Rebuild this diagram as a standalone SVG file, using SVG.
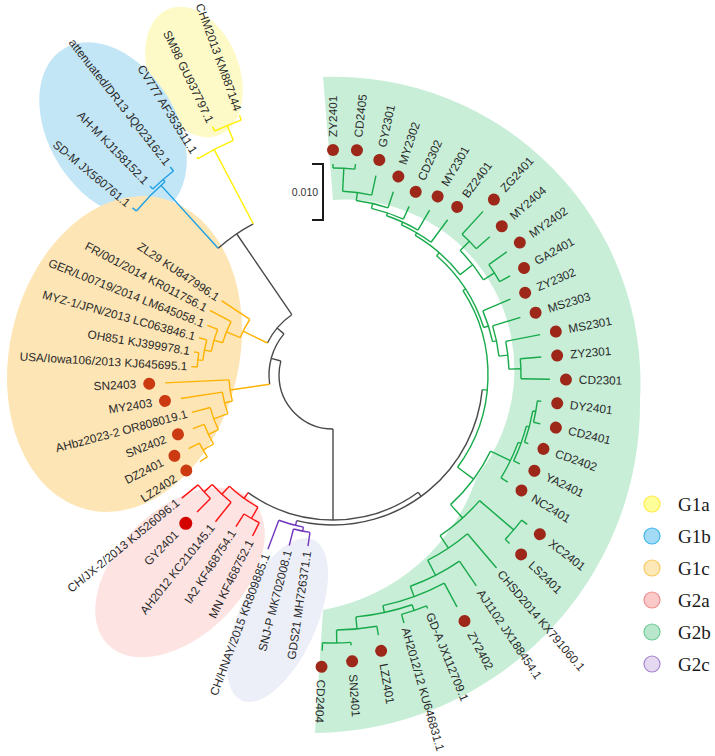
<svg xmlns="http://www.w3.org/2000/svg" width="715" height="756" viewBox="0 0 715 756">
<style>
.t{font-family:"Liberation Sans",Arial,sans-serif;font-size:11.8px;fill:#2a2a2a;dominant-baseline:central}
.f{text-anchor:end}
.ln line,.ln circle{fill:none;stroke-width:1.4}
.k{stroke:#4a4a4a}
.y{stroke:#fff000}
.b{stroke:#1c9fe4}
.o{stroke:#ffb200}
.r{stroke:#ff1111}
.p{stroke:#7236bd}
.g{stroke:#17aa4a}
.dg{fill:#9d2819}
.do{fill:#cc3a12}
.dr{fill:#d30000}
.lg{font-family:"Liberation Serif","Times New Roman",serif;font-size:19px;fill:#1a1a1a}
</style>
<rect width="715" height="756" fill="#ffffff"/>
<g id="clade-backgrounds">
<ellipse id="bg-G1a" cx="194" cy="72" rx="68" ry="45" transform="rotate(68 194 72)" fill="#fdfac8"/>
<ellipse id="bg-G1b" cx="113" cy="130" rx="95" ry="64" transform="rotate(58.5 113 130)" fill="#c3e6f6"/>
<ellipse id="bg-G1c" cx="124.5" cy="354" rx="114.6" ry="160" transform="rotate(13.4 124.5 354)" fill="#fde5b5"/>
<ellipse id="bg-G2a" cx="180" cy="572.5" rx="102" ry="63" transform="rotate(-45 180 572.5)" fill="#fde3e2"/>
<ellipse id="bg-G2c" cx="277.5" cy="620" rx="88" ry="39" transform="rotate(-66 277.5 620)" fill="#eceef8"/>
<path id="bg-G2b" d="M323,77 A306,306 0 0 1 640,400 A329,329 0 0 1 315,733 L323,610 A199,199 0 0 0 477,476 A170,170 0 0 0 333,200 Z" fill="#c8eed8"/>
</g>
<g id="scale-bar">
<path d="M312,164 H323 V220 H312" fill="none" stroke="#1a1a1a" stroke-width="2"/>
<text x="305" y="192" text-anchor="middle" dominant-baseline="central" font-family="Liberation Sans, Arial, sans-serif" font-size="10.5" fill="#333">0.010</text>
</g>
<g transform="translate(333,375)">
<g id="connectors" class="ln">
<g class="k">
<circle r="54" pathLength="360" stroke-dasharray="105 360" transform="rotate(90)"/>
<circle r="64" pathLength="360" stroke-dasharray="48.3 360" transform="rotate(171.7)"/>
<circle r="73" pathLength="360" stroke-dasharray="29.7 360" transform="rotate(206)"/>
<circle r="171" pathLength="360" stroke-dasharray="14.4 360" transform="rotate(227.8)"/>
<circle r="145" pathLength="360" stroke-dasharray="71.8 360" transform="rotate(54)"/>
<circle r="150" pathLength="360" stroke-dasharray="98.4 360" transform="rotate(5.6)"/>
<line x1="54" x2="64" transform="rotate(195)"/>
<line x1="54" x2="145" transform="rotate(90)"/>
<line x1="64" x2="73" transform="rotate(220)"/>
<line x1="73" x2="171" transform="rotate(235.7)"/>
<line x1="145" x2="150" transform="rotate(54)"/>
</g>
<g class="o">
<line x1="64" x2="104" transform="rotate(171.7)"/>
<line x1="73" x2="100" transform="rotate(206)"/>
<circle r="104" pathLength="360" stroke-dasharray="11.8 360" transform="rotate(165.5)"/>
<circle r="112" pathLength="360" stroke-dasharray="11.425 360" transform="rotate(159.8)"/>
<circle r="127" pathLength="360" stroke-dasharray="10.65 360" transform="rotate(154.5)"/>
<circle r="138" pathLength="360" stroke-dasharray="9.075 360" transform="rotate(150)"/>
<circle r="150" pathLength="360" stroke-dasharray="6.075 360" transform="rotate(146.925)"/>
<circle r="100" pathLength="360" stroke-dasharray="11.75 360" transform="rotate(202)"/>
<circle r="115" pathLength="360" stroke-dasharray="11.375 360" transform="rotate(196.3)"/>
<circle r="124" pathLength="360" stroke-dasharray="10.6 360" transform="rotate(191)"/>
<circle r="131" pathLength="360" stroke-dasharray="9.125 360" transform="rotate(186.4)"/>
<circle r="136" pathLength="360" stroke-dasharray="6.075 360" transform="rotate(183.375)"/>
<line x1="104" x2="168" transform="rotate(177.3)"/>
<line x1="104" x2="112" transform="rotate(165.5)"/>
<line x1="112" x2="154" transform="rotate(171.225)"/>
<line x1="112" x2="127" transform="rotate(159.8)"/>
<line x1="127" x2="146" transform="rotate(165.15)"/>
<line x1="127" x2="138" transform="rotate(154.5)"/>
<line x1="138" x2="150" transform="rotate(159.075)"/>
<line x1="138" x2="150" transform="rotate(150)"/>
<line x1="150" x2="162" transform="rotate(153)"/>
<line x1="150" x2="159" transform="rotate(146.925)"/>
<line x1="100" x2="134" transform="rotate(213.75)"/>
<line x1="100" x2="115" transform="rotate(202)"/>
<line x1="115" x2="139" transform="rotate(207.675)"/>
<line x1="115" x2="124" transform="rotate(196.3)"/>
<line x1="124" x2="135" transform="rotate(201.6)"/>
<line x1="124" x2="131" transform="rotate(191)"/>
<line x1="131" x2="139" transform="rotate(195.525)"/>
<line x1="131" x2="136" transform="rotate(186.4)"/>
<line x1="136" x2="142" transform="rotate(183.375)"/>
<line x1="136" x2="141" transform="rotate(189.45)"/>
</g>
<g class="b">
<line x1="171" x2="256" transform="rotate(227.8)"/>
<circle r="256" pathLength="360" stroke-dasharray="9.175 360" transform="rotate(219.825)"/>
<line x1="256" x2="261" transform="rotate(219.825)"/>
<line x1="256" x2="259" transform="rotate(229)"/>
<circle r="259" pathLength="360" stroke-dasharray="6.075 360" transform="rotate(225.9)"/>
<line x1="259" x2="263" transform="rotate(225.9)"/>
<line x1="259" x2="264" transform="rotate(231.975)"/>
</g>
<g class="y">
<line x1="171" x2="255" transform="rotate(242.2)"/>
<circle r="255" pathLength="360" stroke-dasharray="8.95 360" transform="rotate(238.05)"/>
<line x1="255" x2="257" transform="rotate(238.05)"/>
<line x1="255" x2="271" transform="rotate(247)"/>
<circle r="271" pathLength="360" stroke-dasharray="6.075 360" transform="rotate(244.125)"/>
<line x1="271" x2="276" transform="rotate(244.125)"/>
<line x1="271" x2="276" transform="rotate(250.2)"/>
</g>
<g class="r">
<line x1="145" x2="152" transform="rotate(125.8)"/>
<circle r="152" pathLength="360" stroke-dasharray="13.4 360" transform="rotate(119.6)"/>
<line x1="152" x2="165" transform="rotate(119.6)"/>
<circle r="165" pathLength="360" stroke-dasharray="6.075 360" transform="rotate(116.55)"/>
<line x1="165" x2="180" transform="rotate(116.55)"/>
<line x1="165" x2="180" transform="rotate(122.625)"/>
<line x1="152" x2="163" transform="rotate(133)"/>
<circle r="163" pathLength="360" stroke-dasharray="9.1 360" transform="rotate(128.7)"/>
<line x1="163" x2="188" transform="rotate(128.7)"/>
<line x1="163" x2="174" transform="rotate(137.8)"/>
<circle r="174" pathLength="360" stroke-dasharray="6.075 360" transform="rotate(134.775)"/>
<line x1="174" x2="193" transform="rotate(134.775)"/>
<line x1="174" x2="195" transform="rotate(140.85)"/>
</g>
<g class="p">
<line x1="150" x2="155" transform="rotate(104)"/>
<circle r="155" pathLength="360" stroke-dasharray="9.475 360" transform="rotate(101)"/>
<line x1="155" x2="186" transform="rotate(110.475)"/>
<line x1="155" x2="159" transform="rotate(101)"/>
<circle r="159" pathLength="360" stroke-dasharray="6.075 360" transform="rotate(98.325)"/>
<line x1="159" x2="173" transform="rotate(98.325)"/>
<line x1="159" x2="176" transform="rotate(104.4)"/>
</g>
<g class="g">
<circle r="207" pathLength="360" stroke-dasharray="6.075 360" transform="rotate(-90)"/>
<circle r="184" pathLength="360" stroke-dasharray="9.15 360" transform="rotate(-87)"/>
<circle r="176" pathLength="360" stroke-dasharray="10.625 360" transform="rotate(-82.4)"/>
<circle r="171" pathLength="360" stroke-dasharray="11.3 360" transform="rotate(-77)"/>
<circle r="168" pathLength="360" stroke-dasharray="11.775 360" transform="rotate(-71.4)"/>
<circle r="165" pathLength="360" stroke-dasharray="11.95 360" transform="rotate(-65.5)"/>
<circle r="162" pathLength="360" stroke-dasharray="21.2 360" transform="rotate(-59.5)"/>
<circle r="178" pathLength="360" stroke-dasharray="12.1 360" transform="rotate(-44.4)"/>
<circle r="191" pathLength="360" stroke-dasharray="6.075 360" transform="rotate(-47.475)"/>
<circle r="191" pathLength="360" stroke-dasharray="6.075 360" transform="rotate(-35.325)"/>
<circle r="158" pathLength="360" stroke-dasharray="31.5 360" transform="rotate(-49)"/>
<circle r="163" pathLength="360" stroke-dasharray="11.375 360" transform="rotate(-23.175)"/>
<circle r="167" pathLength="360" stroke-dasharray="10.6 360" transform="rotate(-17.1)"/>
<circle r="176" pathLength="360" stroke-dasharray="9.125 360" transform="rotate(-11.025)"/>
<circle r="188" pathLength="360" stroke-dasharray="6.075 360" transform="rotate(-4.95)"/>
<circle r="155" pathLength="360" stroke-dasharray="69.5 360" transform="rotate(-33)"/>
<circle r="175" pathLength="360" stroke-dasharray="22 360" transform="rotate(25.8)"/>
<circle r="197" pathLength="360" stroke-dasharray="11.5 360" transform="rotate(20)"/>
<circle r="200" pathLength="360" stroke-dasharray="10.625 360" transform="rotate(14.8)"/>
<circle r="203" pathLength="360" stroke-dasharray="9.15 360" transform="rotate(10.2)"/>
<circle r="206" pathLength="360" stroke-dasharray="6.075 360" transform="rotate(7.2)"/>
<circle r="193" pathLength="360" stroke-dasharray="15.7 360" transform="rotate(40.6)"/>
<circle r="238" pathLength="360" stroke-dasharray="6.075 360" transform="rotate(37.575)"/>
<circle r="208" pathLength="360" stroke-dasharray="13.175 360" transform="rotate(49.725)"/>
<circle r="225" pathLength="360" stroke-dasharray="14.1 360" transform="rotate(55.8)"/>
<circle r="236" pathLength="360" stroke-dasharray="15.925 360" transform="rotate(61.875)"/>
<circle r="243" pathLength="360" stroke-dasharray="13.6 360" transform="rotate(71)"/>
<circle r="249" pathLength="360" stroke-dasharray="6.075 360" transform="rotate(67.95)"/>
<circle r="255" pathLength="360" stroke-dasharray="9.1 360" transform="rotate(80.1)"/>
<circle r="268" pathLength="360" stroke-dasharray="6.075 360" transform="rotate(86.175)"/>
<line x1="207" x2="211" transform="rotate(-90)"/>
<line x1="207" x2="212" transform="rotate(-83.925)"/>
<line x1="184" x2="204" transform="rotate(-77.85)"/>
<line x1="176" x2="193" transform="rotate(-71.775)"/>
<line x1="171" x2="185" transform="rotate(-65.7)"/>
<line x1="168" x2="191" transform="rotate(-59.625)"/>
<line x1="165" x2="193" transform="rotate(-53.55)"/>
<line x1="191" x2="222" transform="rotate(-47.475)"/>
<line x1="191" x2="209" transform="rotate(-41.4)"/>
<line x1="191" x2="213" transform="rotate(-35.325)"/>
<line x1="191" x2="203" transform="rotate(-29.25)"/>
<line x1="163" x2="193" transform="rotate(-23.175)"/>
<line x1="167" x2="196" transform="rotate(-17.1)"/>
<line x1="176" x2="211" transform="rotate(-11.025)"/>
<line x1="188" x2="209" transform="rotate(-4.95)"/>
<line x1="188" x2="217" transform="rotate(1.125)"/>
<line x1="206" x2="210" transform="rotate(7.2)"/>
<line x1="206" x2="213" transform="rotate(13.275)"/>
<line x1="203" x2="207" transform="rotate(19.35)"/>
<line x1="200" x2="207" transform="rotate(25.425)"/>
<line x1="197" x2="205" transform="rotate(31.5)"/>
<line x1="238" x2="245" transform="rotate(37.575)"/>
<line x1="238" x2="244" transform="rotate(43.65)"/>
<line x1="208" x2="253" transform="rotate(49.725)"/>
<line x1="225" x2="255" transform="rotate(55.8)"/>
<line x1="236" x2="263" transform="rotate(61.875)"/>
<line x1="249" x2="252" transform="rotate(67.95)"/>
<line x1="249" x2="258" transform="rotate(74.025)"/>
<line x1="255" x2="264" transform="rotate(80.1)"/>
<line x1="268" x2="271" transform="rotate(86.175)"/>
<line x1="268" x2="276" transform="rotate(92.25)"/>
<line x1="184" x2="207" transform="rotate(-87)"/>
<line x1="176" x2="184" transform="rotate(-82.4)"/>
<line x1="171" x2="176" transform="rotate(-77)"/>
<line x1="168" x2="171" transform="rotate(-71.4)"/>
<line x1="165" x2="168" transform="rotate(-65.5)"/>
<line x1="162" x2="165" transform="rotate(-59.5)"/>
<line x1="178" x2="191" transform="rotate(-44.4)"/>
<line x1="178" x2="191" transform="rotate(-32.3)"/>
<line x1="162" x2="178" transform="rotate(-38.3)"/>
<line x1="158" x2="162" transform="rotate(-49)"/>
<line x1="158" x2="163" transform="rotate(-17.5)"/>
<line x1="163" x2="167" transform="rotate(-11.8)"/>
<line x1="167" x2="176" transform="rotate(-6.5)"/>
<line x1="176" x2="188" transform="rotate(-1.9)"/>
<line x1="155" x2="158" transform="rotate(-33)"/>
<line x1="155" x2="175" transform="rotate(36.5)"/>
<line x1="150" x2="155" transform="rotate(5.6)"/>
<line x1="175" x2="197" transform="rotate(25.8)"/>
<line x1="175" x2="193" transform="rotate(47.8)"/>
<line x1="197" x2="200" transform="rotate(20)"/>
<line x1="200" x2="203" transform="rotate(14.8)"/>
<line x1="203" x2="206" transform="rotate(10.2)"/>
<line x1="193" x2="238" transform="rotate(40.6)"/>
<line x1="193" x2="208" transform="rotate(56.3)"/>
<line x1="208" x2="225" transform="rotate(62.9)"/>
<line x1="225" x2="236" transform="rotate(69.9)"/>
<line x1="236" x2="243" transform="rotate(77.8)"/>
<line x1="243" x2="249" transform="rotate(71)"/>
<line x1="243" x2="255" transform="rotate(84.6)"/>
<line x1="255" x2="268" transform="rotate(89.2)"/>
</g>
</g>
<g id="leaves">
<g id="n-ZY2401"><circle class="dg" cx="225" r="6" transform="rotate(-90)"/><text class="t" transform="rotate(-90) translate(238,0)">ZY2401</text></g>
<g id="n-CD2405"><circle class="dg" cx="226" r="6" transform="rotate(-83.925)"/><text class="t" transform="rotate(-83.925) translate(239,0)">CD2405</text></g>
<g id="n-GY2301"><circle class="dg" cx="220" r="6" transform="rotate(-77.85)"/><text class="t" transform="rotate(-77.85) translate(233,0)">GY2301</text></g>
<g id="n-MY2302"><circle class="dg" cx="209" r="6" transform="rotate(-71.775)"/><text class="t" transform="rotate(-71.775) translate(222,0)">MY2302</text></g>
<g id="n-CD2302"><circle class="dg" cx="201" r="6" transform="rotate(-65.7)"/><text class="t" transform="rotate(-65.7) translate(214,0)">CD2302</text></g>
<g id="n-MY2301"><circle class="dg" cx="207" r="6" transform="rotate(-59.625)"/><text class="t" transform="rotate(-59.625) translate(220,0)">MY2301</text></g>
<g id="n-BZ2401"><circle class="dg" cx="209" r="6" transform="rotate(-53.55)"/><text class="t" transform="rotate(-53.55) translate(222,0)">BZ2401</text></g>
<g id="n-ZG2401"><circle class="dg" cx="238" r="6" transform="rotate(-47.475)"/><text class="t" transform="rotate(-47.475) translate(251,0)">ZG2401</text></g>
<g id="n-MY2404"><circle class="dg" cx="225" r="6" transform="rotate(-41.4)"/><text class="t" transform="rotate(-41.4) translate(238,0)">MY2404</text></g>
<g id="n-MY2402"><circle class="dg" cx="229" r="6" transform="rotate(-35.325)"/><text class="t" transform="rotate(-35.325) translate(242,0)">MY2402</text></g>
<g id="n-GA2401"><circle class="dg" cx="219" r="6" transform="rotate(-29.25)"/><text class="t" transform="rotate(-29.25) translate(232,0)">GA2401</text></g>
<g id="n-ZY2302"><circle class="dg" cx="209" r="6" transform="rotate(-23.175)"/><text class="t" transform="rotate(-23.175) translate(222,0)">ZY2302</text></g>
<g id="n-MS2303"><circle class="dg" cx="212" r="6" transform="rotate(-17.1)"/><text class="t" transform="rotate(-17.1) translate(225,0)">MS2303</text></g>
<g id="n-MS2301"><circle class="dg" cx="227" r="6" transform="rotate(-11.025)"/><text class="t" transform="rotate(-11.025) translate(240,0)">MS2301</text></g>
<g id="n-ZY2301"><circle class="dg" cx="225" r="6" transform="rotate(-4.95)"/><text class="t" transform="rotate(-4.95) translate(238,0)">ZY2301</text></g>
<g id="n-CD2301"><circle class="dg" cx="233" r="6" transform="rotate(1.125)"/><text class="t" transform="rotate(1.125) translate(246,0)">CD2301</text></g>
<g id="n-DY2401"><circle class="dg" cx="226" r="6" transform="rotate(7.2)"/><text class="t" transform="rotate(7.2) translate(239,0)">DY2401</text></g>
<g id="n-CD2401"><circle class="dg" cx="229" r="6" transform="rotate(13.275)"/><text class="t" transform="rotate(13.275) translate(242,0)">CD2401</text></g>
<g id="n-CD2402"><circle class="dg" cx="223" r="6" transform="rotate(19.35)"/><text class="t" transform="rotate(19.35) translate(236,0)">CD2402</text></g>
<g id="n-YA2401"><circle class="dg" cx="223" r="6" transform="rotate(25.425)"/><text class="t" transform="rotate(25.425) translate(236,0)">YA2401</text></g>
<g id="n-NC2401"><circle class="dg" cx="221" r="6" transform="rotate(31.5)"/><text class="t" transform="rotate(31.5) translate(234,0)">NC2401</text></g>
<g id="n-XC2401"><circle class="dg" cx="261" r="6" transform="rotate(37.575)"/><text class="t" transform="rotate(37.575) translate(274,0)">XC2401</text></g>
<g id="n-LS2401"><circle class="dg" cx="260" r="6" transform="rotate(43.65)"/><text class="t" transform="rotate(43.65) translate(273,0)">LS2401</text></g>
<g id="n-CHSD2014"><text class="t" transform="rotate(49.725) translate(258,0)">CHSD2014 KX791060.1</text></g>
<g id="n-AJ1102"><text class="t" transform="rotate(55.8) translate(261,0)">AJ1102 JX188454.1</text></g>
<g id="n-ZY2402"><circle class="dg" cx="279" r="6" transform="rotate(61.875)"/><text class="t" transform="rotate(61.875) translate(292,0)">ZY2402</text></g>
<g id="n-GD-A"><text class="t" transform="rotate(67.95) translate(257,0)">GD-A JX112709.1</text></g>
<g id="n-AH2012-12"><text class="t" transform="rotate(74.025) translate(263,0)">AH2012/12 KU646831.1</text></g>
<g id="n-LZZ401"><circle class="dg" cx="280" r="6" transform="rotate(80.1)"/><text class="t" transform="rotate(80.1) translate(293,0)">LZZ401</text></g>
<g id="n-SN2401"><circle class="dg" cx="287" r="6" transform="rotate(86.175)"/><text class="t" transform="rotate(86.175) translate(300,0)">SN2401</text></g>
<g id="n-CD2404"><circle class="dg" cx="292" r="6" transform="rotate(92.25)"/><text class="t" transform="rotate(92.25) translate(305,0)">CD2404</text></g>
<g id="n-GDS21"><text class="t f" transform="rotate(98.325) translate(178,0) rotate(180)">GDS21 MH726371.1</text></g>
<g id="n-SNJ-P"><text class="t f" transform="rotate(104.4) translate(181,0) rotate(180)">SNJ-P MK702008.1</text></g>
<g id="n-CH-HNAY"><text class="t f" transform="rotate(110.475) translate(191,0) rotate(180)">CH/HNAY/2015 KR809885.1</text></g>
<g id="n-MN"><text class="t f" transform="rotate(116.55) translate(185,0) rotate(180)">MN KF468752.1</text></g>
<g id="n-IA2"><text class="t f" transform="rotate(122.625) translate(185,0) rotate(180)">IA2 KF468754.1</text></g>
<g id="n-AH2012"><text class="t f" transform="rotate(128.7) translate(193,0) rotate(180)">AH2012 KC210145.1</text></g>
<g id="n-GY2401"><circle class="dr" cx="209" r="6.5" transform="rotate(134.775)"/><text class="t f" transform="rotate(134.775) translate(222,0) rotate(180)">GY2401</text></g>
<g id="n-CH-JX-2"><text class="t f" transform="rotate(140.85) translate(200,0) rotate(180)">CH/JX-2/2013 KJ526096.1</text></g>
<g id="n-LZ2402"><circle class="do" cx="175" r="6" transform="rotate(146.925)"/><text class="t f" transform="rotate(146.925) translate(188,0) rotate(180)">LZ2402</text></g>
<g id="n-DZ2401"><circle class="do" cx="178" r="6" transform="rotate(153)"/><text class="t f" transform="rotate(153) translate(191,0) rotate(180)">DZ2401</text></g>
<g id="n-SN2402"><circle class="do" cx="166" r="6" transform="rotate(159.075)"/><text class="t f" transform="rotate(159.075) translate(179,0) rotate(180)">SN2402</text></g>
<g id="n-AHbz2023-2"><text class="t f" transform="rotate(165.15) translate(151,0) rotate(180)">AHbz2023-2 OR808019.1</text></g>
<g id="n-MY2403"><circle class="do" cx="170" r="6" transform="rotate(171.225)"/><text class="t f" transform="rotate(171.225) translate(183,0) rotate(180)">MY2403</text></g>
<g id="n-SN2403"><circle class="do" cx="184" r="6" transform="rotate(177.3)"/><text class="t f" transform="rotate(177.3) translate(197,0) rotate(180)">SN2403</text></g>
<g id="n-USA-Iowa106"><text class="t f" transform="rotate(183.375) translate(146,0) rotate(180)">USA/Iowa106/2013 KJ645695.1</text></g>
<g id="n-OH851"><text class="t f" transform="rotate(189.45) translate(145,0) rotate(180)">OH851 KJ399978.1</text></g>
<g id="n-MYZ-1"><text class="t f" transform="rotate(195.525) translate(143,0) rotate(180)">MYZ-1/JPN/2013 LC063846.1</text></g>
<g id="n-GER"><text class="t f" transform="rotate(201.6) translate(139,0) rotate(180)">GER/L00719/2014 LM645058.1</text></g>
<g id="n-FR"><text class="t f" transform="rotate(207.675) translate(143,0) rotate(180)">FR/001/2014 KR011756.1</text></g>
<g id="n-ZL29"><text class="t f" transform="rotate(213.75) translate(138,0) rotate(180)">ZL29 KU847996.1</text></g>
<g id="n-SD-M"><text class="t f" transform="rotate(219.825) translate(266,0) rotate(180)">SD-M JX560761.1</text></g>
<g id="n-AH-M"><text class="t f" transform="rotate(225.9) translate(268,0) rotate(180)">AH-M KJ158152.1</text></g>
<g id="n-DR13"><text class="t f" transform="rotate(231.975) translate(268,0) rotate(180)">attenuated/DR13 JQ023162.1</text></g>
<g id="n-CV777"><text class="t f" transform="rotate(238.05) translate(262,0) rotate(180)">CV777 AF353511.1</text></g>
<g id="n-SM98"><text class="t f" transform="rotate(244.125) translate(281,0) rotate(180)">SM98 GU937797.1</text></g>
<g id="n-CHM2013"><text class="t f" transform="rotate(250.2) translate(281,0) rotate(180)">CHM2013 KM887144</text></g>
</g>
</g>
<g id="legend">
<g id="lg-G1a"><circle cx="652" cy="504" r="8" fill="#ffff99" stroke="#ffe84a" stroke-width="1.2"/><text class="lg" x="678" y="510.5">G1a</text></g>
<g id="lg-G1b"><circle cx="652" cy="536" r="8" fill="#a3dbf6" stroke="#3fb5ec" stroke-width="1.2"/><text class="lg" x="678" y="542.5">G1b</text></g>
<g id="lg-G1c"><circle cx="652" cy="568" r="8" fill="#fde8b8" stroke="#f7c95e" stroke-width="1.2"/><text class="lg" x="678" y="574.5">G1c</text></g>
<g id="lg-G2a"><circle cx="652" cy="600" r="8" fill="#fcc9c9" stroke="#ef8f8f" stroke-width="1.2"/><text class="lg" x="678" y="606.5">G2a</text></g>
<g id="lg-G2b"><circle cx="652" cy="632" r="8" fill="#b9e7cc" stroke="#6fcb98" stroke-width="1.2"/><text class="lg" x="678" y="638.5">G2b</text></g>
<g id="lg-G2c"><circle cx="652" cy="664" r="8" fill="#e4d9f1" stroke="#a686cc" stroke-width="1.2"/><text class="lg" x="678" y="670.5">G2c</text></g>
</g>
</svg>
